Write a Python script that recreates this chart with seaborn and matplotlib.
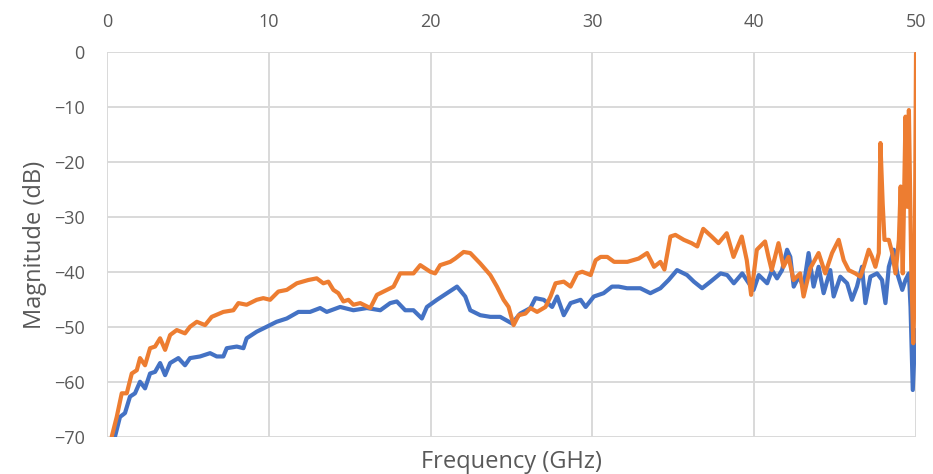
import matplotlib
matplotlib.use("Agg")
import matplotlib.pyplot as plt
import seaborn as sns
import pandas as pd

# ---- data ----
blue_x = [0.49, 0.80, 1.11, 1.42, 1.73, 2.04, 2.35, 2.66, 2.97, 3.28, 3.59, 3.90, 4.41, 4.82,
          5.13, 5.75, 6.37, 6.78, 7.19, 7.40, 8.02, 8.43, 8.63, 9.25, 9.87, 10.48, 11.11, 11.83,
          12.55, 13.17, 13.58, 14.41, 15.23, 16.06, 16.89, 17.50, 17.91, 18.43, 18.94, 19.46,
          19.77, 20.39, 21.01, 21.63, 22.14, 22.45, 23.07, 23.69, 24.30, 25.03, 25.54, 26.17,
          26.48, 26.99, 27.51, 27.82, 28.23, 28.65, 29.27, 29.58, 30.09, 30.69, 31.21, 31.62,
          32.14, 32.96, 33.58, 34.20, 34.71, 35.23, 35.85, 36.27, 36.78, 37.30, 37.92, 38.33,
          38.74, 39.26, 39.67, 39.96, 40.28, 40.80, 41.10, 41.41, 41.72, 42.03, 42.23, 42.44,
          42.75, 43.05, 43.36, 43.67, 43.98, 44.29, 44.70, 44.91, 45.32, 45.74, 46.04, 46.35,
          46.66, 46.87, 47.18, 47.59, 47.90, 48.11, 48.32, 48.63, 48.84, 49.15, 49.35, 49.56,
          49.66, 49.80, 49.96]
blue_y = [-69.9, -66.3, -65.6, -62.6, -62.0, -59.9, -61.1, -58.4, -58.1, -56.5, -58.7, -56.5,
          -55.6, -56.9, -55.6, -55.3, -54.7, -55.3, -55.3, -53.8, -53.5, -53.8, -52.0, -50.8,
          -49.9, -49.0, -48.4, -47.2, -47.2, -46.5, -47.2, -46.3, -46.9, -46.5, -46.9, -45.6,
          -45.3, -46.9, -46.9, -48.4, -46.3, -45.0, -43.8, -42.6, -44.4, -46.9, -47.8, -48.1,
          -48.1, -49.3, -47.5, -46.5, -44.7, -45.0, -46.3, -44.4, -47.8, -45.6, -45.0, -46.3,
          -44.4, -43.8, -42.6, -42.6, -42.9, -42.9, -43.8, -42.9, -41.4, -39.6, -40.5, -41.7,
          -42.9, -41.7, -40.2, -40.5, -42.0, -40.2, -42.0, -43.2, -40.5, -42.0, -39.6, -41.1,
          -39.6, -35.9, -37.2, -42.6, -40.8, -42.6, -36.5, -42.6, -39.0, -43.8, -39.6, -44.4,
          -40.8, -42.0, -45.0, -42.6, -39.0, -45.6, -40.8, -40.2, -41.4, -45.6, -39.0, -35.9,
          -40.2, -43.2, -41.4, -40.2, -46.3, -61.4, -50.5]

orange_x = [0.29, 0.60, 0.91, 1.22, 1.53, 1.84, 2.04, 2.35, 2.66, 2.97, 3.28, 3.59, 3.90, 4.31,
            4.82, 5.13, 5.55, 6.06, 6.47, 7.19, 7.81, 8.12, 8.63, 9.25, 9.66, 10.08, 10.59,
            11.11, 11.73, 12.44, 12.96, 13.37, 13.68, 13.99, 14.30, 14.61, 14.92, 15.23, 15.65,
            16.27, 16.68, 17.30, 17.71, 18.12, 18.94, 19.36, 19.98, 20.28, 20.59, 21.21, 21.52,
            22.04, 22.45, 23.07, 23.69, 24.10, 24.51, 24.82, 25.13, 25.44, 25.86, 26.17, 26.58,
            27.10, 27.41, 27.72, 28.23, 28.65, 29.06, 29.37, 29.89, 30.20, 30.51, 30.92, 31.34,
            32.16, 32.86, 33.38, 33.81, 34.20, 34.45, 34.82, 35.13, 35.65, 36.13, 36.48, 36.85,
            37.37, 37.79, 38.30, 38.72, 39.23, 39.54, 39.81, 40.16, 40.67, 40.88, 41.08, 41.50,
            41.81, 42.12, 42.43, 42.84, 43.05, 43.46, 43.98, 44.39, 44.81, 45.22, 45.53, 45.84,
            46.25, 46.56, 46.77, 47.08, 47.28, 47.49, 47.70, 47.80, 47.94, 48.05, 48.32, 48.53,
            48.73, 48.94, 49.05, 49.18, 49.35, 49.46, 49.56, 49.71, 49.83, 49.91, 50.0]
orange_y = [-69.9, -66.3, -62.0, -62.0, -58.4, -57.8, -55.6, -56.9, -53.8, -53.5, -52.0, -54.1,
            -51.4, -50.5, -51.1, -49.9, -49.0, -49.6, -48.1, -47.2, -46.9, -45.6, -45.9, -45.0,
            -44.7, -45.0, -43.5, -43.2, -42.0, -41.4, -41.1, -42.0, -41.7, -43.2, -43.8, -45.3,
            -45.0, -45.9, -45.6, -46.5, -44.1, -43.2, -42.6, -40.2, -40.2, -38.7, -39.9, -40.2,
            -38.7, -38.1, -37.5, -36.3, -36.5, -38.4, -40.5, -42.6, -45.0, -46.3, -49.6, -47.8,
            -47.5, -46.5, -47.2, -46.3, -44.4, -42.0, -41.7, -42.6, -40.2, -39.9, -40.5, -37.8,
            -37.2, -37.2, -38.1, -38.1, -37.5, -36.5, -39.0, -38.1, -39.5, -33.5, -33.2, -34.1,
            -34.7, -35.3, -32.1, -33.5, -34.7, -32.9, -37.2, -33.5, -37.8, -44.1, -35.9, -34.4,
            -37.2, -39.6, -34.7, -39.0, -37.2, -41.4, -40.2, -44.4, -39.3, -36.5, -40.2, -36.5,
            -34.1, -37.8, -39.6, -40.2, -40.8, -39.0, -35.9, -37.2, -39.0, -36.5, -16.5, -27.5,
            -34.1, -34.1, -36.5, -40.2, -34.1, -24.4, -40.2, -11.7, -28.1, -10.5, -40.2, -52.9,
            -43.8, -0.2]

x_ticks = [0, 10, 20, 30, 40, 50]
y_ticks = [0, -10, -20, -30, -40, -50, -60, -70]

df = pd.concat([
    pd.DataFrame({"freq": blue_x, "mag": blue_y, "series": "A"}),
    pd.DataFrame({"freq": orange_x, "mag": orange_y, "series": "B"}),
], ignore_index=True)

sns.set_theme(style="white")
plt.rcParams["font.family"] = ["Open Sans", "DejaVu Sans"]
txt = "#595959"
grid = "#D9D9D9"

fig = plt.figure(figsize=(9.33, 4.74), dpi=100)
ax = fig.add_axes([0.1147, 0.0774, 0.9818 - 0.1147, 0.8897 - 0.0774])

sns.lineplot(data=df, x="freq", y="mag", hue="series", estimator=None, sort=False,
             palette={"A": "#4472C4", "B": "#ED7D31"}, linewidth=3.0, legend=False, ax=ax)

ax.set_xlim(0, 50)
ax.set_ylim(-70, 0)
ax.set_xticks(x_ticks)
ax.set_yticks(y_ticks)
ax.xaxis.tick_top()
ax.xaxis.set_label_position("bottom")
ax.grid(True, color=grid, linewidth=1.4)
ax.set_axisbelow(True)
for s in ax.spines.values():
    s.set_visible(False)
ax.tick_params(axis="both", length=0, labelsize=13, colors=txt)
ax.tick_params(axis="x", pad=15)
ax.tick_params(axis="y", pad=16)
ax.set_xlabel("Frequency (GHz)", fontsize=17, color=txt, labelpad=9)
ax.set_ylabel("Magnitude (dB)", fontsize=17, color=txt, labelpad=5)

fig.savefig("out.png", dpi=100)
